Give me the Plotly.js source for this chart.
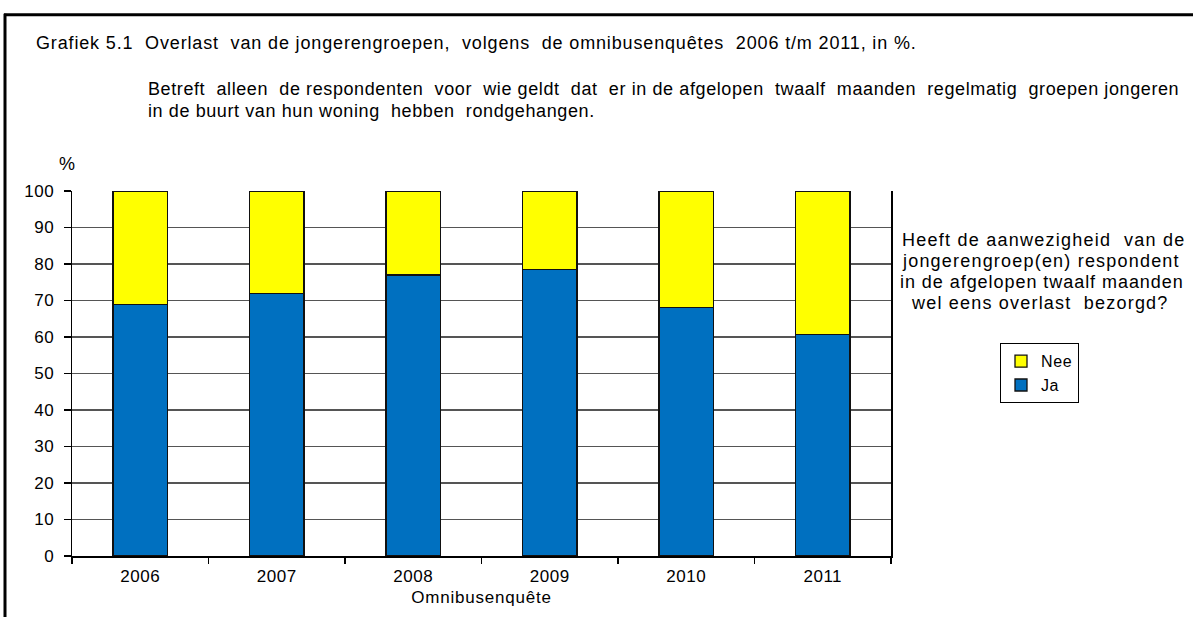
<!DOCTYPE html>
<html>
<head>
<meta charset="utf-8">
<script src="https://cdn.plot.ly/plotly-3.0.1.min.js"></script>
<style>
html,body{margin:0;padding:0;background:#fff;}
#chart{width:1193px;height:617px;}
.xtitle{letter-spacing:0.8px;}
.legendtext{letter-spacing:0.6px;}
.xtick text,.ytick text{letter-spacing:0.5px;}
</style>
</head>
<body>
<div id="chart"></div>
<script>
const years = ['2006','2007','2008','2009','2010','2011'];
const ja = [69, 72, 77, 78.5, 68, 60.7];
const nee = [31, 28, 23, 21.5, 32, 39.3];
const titleText = 'Grafiek 5.1  Overlast  van de jongerengroepen,  volgens  de omnibusenquêtes  2006 t/m 2011, in %.';
const subLines = ['Betreft  alleen  de respondenten  voor  wie geldt  dat  er in de afgelopen  twaalf  maanden  regelmatig  groepen jongeren',
                  'in de buurt van hun woning  hebben  rondgehangen.'];
const legendTitle = ['Heeft de aanwezigheid  van de','jongerengroep(en) respondent','in de afgelopen twaalf maanden','wel eens overlast  bezorgd?'];
const yAxisLabel = '%';
const xAxisTitle = 'Omnibusenquête';

const W = 1193, H = 617;
const L = 72, R = 891, T = 190.5, B = 556;
const px = x => (x - L) / (R - L);
const py = y => (B - y) / (B - T);
const font = 'Liberation Sans, Arial, sans-serif';
const sp = (t, s) => '<span style="letter-spacing:' + s + 'px">' + t + '</span>';

const traces = [
  {type:'bar', name:'Ja', x:years, y:ja, marker:{color:'#0070C0', line:{color:'#111', width:1.3}}},
  {type:'bar', name:'Nee', x:years, y:nee, marker:{color:'#FFFF00', line:{color:'#111', width:1.3}}}
];

const annotations = [
  {text:sp(titleText, 0.85), x:px(34), y:py(42), xanchor:'left', yanchor:'middle'},
  {text:sp(subLines[0], 0.6), x:px(146), y:py(88), xanchor:'left', yanchor:'middle'},
  {text:sp(subLines[1], 0.6), x:px(146), y:py(110), xanchor:'left', yanchor:'middle'},
  {text:yAxisLabel, x:px(67), y:py(163), xanchor:'center', yanchor:'middle'},
  {text:sp(legendTitle[0], 1.25), x:px(1043), y:py(240), xanchor:'center', yanchor:'middle'},
  {text:sp(legendTitle[1], 1.2), x:px(1041), y:py(261), xanchor:'center', yanchor:'middle'},
  {text:sp(legendTitle[2], 0.95), x:px(1042), y:py(282), xanchor:'center', yanchor:'middle'},
  {text:sp(legendTitle[3], 1.2), x:px(1040), y:py(303), xanchor:'center', yanchor:'middle'}
].map(a => Object.assign({xref:'paper', yref:'paper', showarrow:false, font:{family:font, size:18, color:'#000'}}, a));

const layout = {
  width: W, height: H,
  margin: {l:L, r:W-R, t:T, b:H-B, pad:0},
  paper_bgcolor:'#fff', plot_bgcolor:'#fff',
  barmode:'stack', bargap:0.6,
  font:{family:font, size:16, color:'#000'},
  showlegend:true,
  legend:{x:px(1000), y:py(343), xanchor:'left', yanchor:'top', traceorder:'reversed',
          bordercolor:'#000', borderwidth:1, bgcolor:'#fff', font:{family:font, size:16, color:'#000'},
          itemwidth:30, tracegroupgap:0},
  xaxis:{type:'category', showgrid:false, showline:true, linecolor:'#000', linewidth:1.5,
         ticks:'outside', tickson:'boundaries', ticklen:6, tickcolor:'#000', tickwidth:1.5,
         mirror:false, tickfont:{size:17}, ticklabelstandoff:4,
         title:{text:xAxisTitle, font:{size:17}, standoff:6}},
  yaxis:{range:[0,100], dtick:10, showgrid:true, gridcolor:'#555', gridwidth:1.5,
         showline:true, linecolor:'#000', linewidth:1.5, mirror:true,
         ticks:'outside', ticklen:7, tickcolor:'#000', tickwidth:1.5, tickfont:{size:17},
         ticklabelstandoff:6, zeroline:false},
  annotations: annotations,
  shapes:[
    {type:'line', xref:'paper', yref:'paper', x0:px(4), x1:px(1200), y0:py(14), y1:py(14), line:{color:'#000', width:3}},
    {type:'line', xref:'paper', yref:'paper', x0:px(5), x1:px(5), y0:py(13), y1:py(630), line:{color:'#000', width:3}}
  ]
};

Plotly.newPlot('chart', traces, layout, {displayModeBar:false, staticPlot:true});
</script>
</body>
</html>
